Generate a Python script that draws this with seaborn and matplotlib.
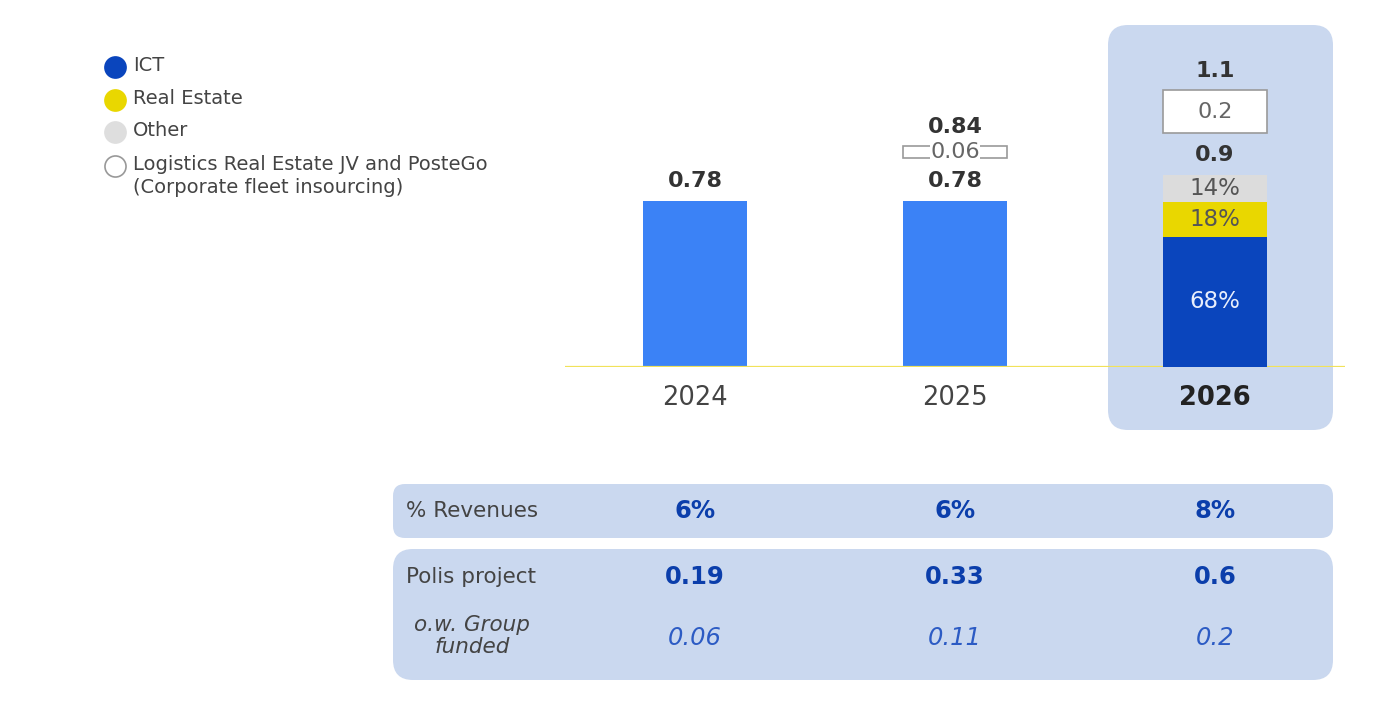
import numpy as np
import pandas as pd
import matplotlib
matplotlib.use("Agg")
from matplotlib import pyplot as plt
from matplotlib.patches import FancyBboxPatch
from matplotlib.transforms import blended_transform_factory
import seaborn as sns

# data
years = ["2024", "2025", "2026"]
totals = [0.78, 0.78, 0.9]
extra = [None, 0.06, 0.2]          # Logistics Real Estate JV and PosteGo
grand_totals = [None, 0.84, 1.1]
mix_2026 = [0.68, 0.18, 0.14]      # ICT, Real Estate, Other share of 0.9
mix_names = ["ICT", "Real Estate", "Other"]
mix_colors = ["#0a45bd", "#e9d700", "#dcdcdc"]
mix_text = ["#e8eefc", "#555555", "#555555"]

revenues_pct = ["6%", "6%", "8%"]
polis = ["0.19", "0.33", "0.6"]
group_funded = ["0.06", "0.11", "0.2"]

legend_names = ["ICT", "Real Estate", "Other",
                "Logistics Real Estate JV and PosteGo\n(Corporate fleet insourcing)"]
legend_colors = ["#0a45bd", "#e9d700", "#dedede", "white"]

sns.set_style("white")
plt.rcParams["font.family"] = ["DejaVu Sans"]

W, H = 1392, 716
fig = plt.figure(figsize=(W / 100, H / 100), dpi=100)

# background axes in pixel units (for panels, legend, table)
bg = fig.add_axes([0, 0, 1, 1], zorder=0)
bg.set_xlim(0, W)
bg.set_ylim(H, 0)
bg.axis("off")

panel = "#cad8ef"
bg.add_patch(FancyBboxPatch((1108, 25), 225, 405, boxstyle="round,pad=0,rounding_size=20",
                            fc=panel, ec="none"))
bg.add_patch(FancyBboxPatch((393, 484), 940, 54, boxstyle="round,pad=0,rounding_size=12",
                            fc=panel, ec="none"))
bg.add_patch(FancyBboxPatch((393, 549), 940, 131, boxstyle="round,pad=0,rounding_size=20",
                            fc=panel, ec="none"))

# legend
leg_y = [67, 100, 132, 166]
for yy, name, col in zip(leg_y, legend_names, legend_colors):
    ec = "#999999" if col == "white" else col
    bg.scatter(115, yy, s=230, color=col, edgecolor=ec, linewidth=1.2, zorder=3)
    bg.text(133, yy - 11, name, fontsize=14, color="#444444", va="top", ha="left",
            linespacing=1.25)

# main bar axes
ax = fig.add_axes([565 / W, 349 / H, 780 / W, 340.5 / H], zorder=1)
ax.patch.set_alpha(0)

df = pd.DataFrame({"year": years[:2], "value": totals[:2]})
sns.barplot(data=df, x="year", y="value", order=years, color="#3b82f6",
            width=0.4, saturation=1, linewidth=0, edgecolor="none", ax=ax)

bottom = 0
for share, c, tc in zip(mix_2026, mix_colors, mix_text):
    h = share * totals[2]
    ax.bar(2, h, bottom=bottom, width=0.4, color=c, linewidth=0, edgecolor="none", zorder=2)
    ax.text(2, bottom + h / 2, f"{share:.0%}", ha="center", va="center",
            fontsize=16.5, color=tc, zorder=3)
    bottom += h

gap = 0.2
for i in range(3):
    ax.text(i, totals[i] + 0.095, f"{totals[i]:g}", ha="center", va="center",
            fontsize=16, fontweight="bold", color="#333333")
    if extra[i] is None:
        continue
    b0 = totals[i] + gap
    ax.bar(i, extra[i], bottom=b0, width=0.4, color="white", edgecolor="#9a9a9a",
           linewidth=1.2, zorder=2)
    bb = dict(fc="white", ec="none", pad=0.5) if i == 1 else None
    ax.text(i, b0 + extra[i] / 2, f"{extra[i]:g}", ha="center", va="center",
            fontsize=16, color="#666666", bbox=bb, zorder=3)
    ax.text(i, b0 + extra[i] + 0.09, f"{grand_totals[i]:g}", ha="center", va="center",
            fontsize=16, fontweight="bold", color="#333333")

ax.axhline(0, color="#f1e25a", lw=1.6, zorder=1)
ax.set_xlim(-0.5, 2.5)
ax.set_ylim(0, 1.6)
ax.set_yticks([])
ax.set_xlabel("")
ax.set_ylabel("")
ax.set_xticks(range(3))
ax.set_xticklabels(years, fontsize=18.5, color="#444444")
ax.get_xticklabels()[2].set_fontweight("bold")
ax.get_xticklabels()[2].set_color("#222222")
ax.tick_params(axis="x", length=0, pad=13)
sns.despine(ax=ax, left=True, bottom=True)

# table under the chart, columns aligned with bars
tr = blended_transform_factory(ax.transData, bg.transData)
blue = "#0b3eab"
bg.text(406, 511, "% Revenues", fontsize=15.5, color="#444444", va="center", ha="left")
bg.text(406, 577, "Polis project", fontsize=15.5, color="#444444", va="center", ha="left")
bg.text(472, 636, "o.w. Group\nfunded", fontsize=15.5, color="#444444", va="center",
        ha="center", style="italic", linespacing=1.15)
for i in range(3):
    bg.text(i, 511, revenues_pct[i], transform=tr, fontsize=17.5, fontweight="bold",
            color=blue, ha="center", va="center")
    bg.text(i, 577, polis[i], transform=tr, fontsize=17.5, fontweight="bold",
            color=blue, ha="center", va="center")
    bg.text(i, 638, group_funded[i], transform=tr, fontsize=17.5, style="italic",
            color="#2c5bc4", ha="center", va="center")

fig.savefig("out.png", dpi=100)
